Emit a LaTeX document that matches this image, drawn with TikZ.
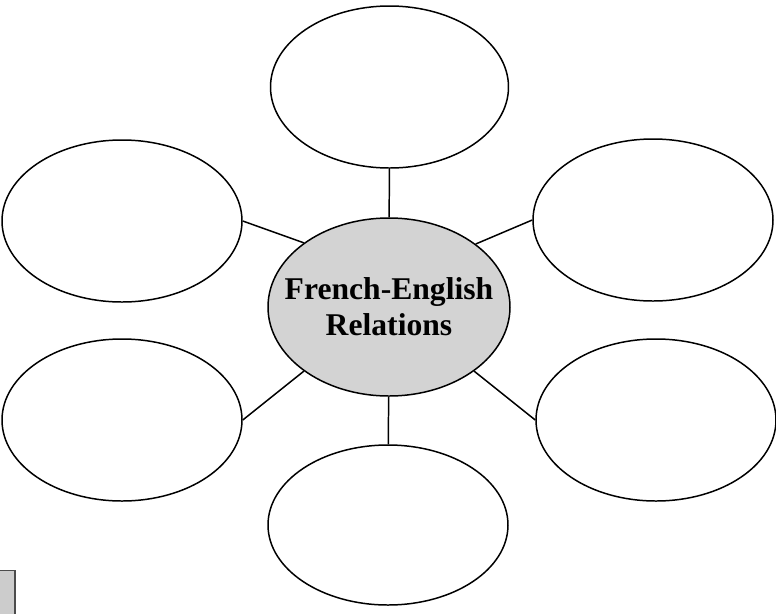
\documentclass[tikz,border=0pt]{standalone}
\usepackage{fontspec}
\setmainfont{Liberation Serif}
\usetikzlibrary{positioning,shapes}
\usepackage{xcolor}
\definecolor{HubGrey}{rgb}{0.8274510,0.8274510,0.8274510}
\definecolor{TabGrey}{rgb}{0.8000000,0.8000000,0.8000000}
\definecolor{TabEdge}{rgb}{0.3000000,0.3000000,0.3000000}

\begin{document}
\begin{tikzpicture}
  \useasboundingbox (0, 0) rectangle (15.52, -12.26);
  \node[ellipse, draw, line width=0.85pt, fill=HubGrey, minimum width=4.84cm, minimum height=3.56cm, inner sep=0pt,
        label={[align=center, font=\fontsize{18}{20.5}\selectfont\bfseries]center:French-English\\Relations}] (n0) at (7.78, -6.14) {};
  \node[ellipse, draw, line width=0.85pt, minimum width=4.76cm, minimum height=3.24cm, inner sep=0pt] (n1) at (7.79, -1.74) {};
  \draw[-, line width=0.85pt] (n0) -- (n1);
  \node[ellipse, draw, line width=0.85pt, minimum width=4.8cm, minimum height=3.24cm, inner sep=0pt] (n2) at (2.44, -4.42) {};
  \draw[-, line width=0.85pt] (n0.143.8) -- (n2.east);
  \node[ellipse, draw, line width=0.85pt, minimum width=4.8cm, minimum height=3.24cm, inner sep=0pt] (n3) at (13.06, -4.4) {};
  \draw[-, line width=0.85pt] (n0.36.3) -- (n3.west);
  \node[ellipse, draw, line width=0.85pt, minimum width=4.8cm, minimum height=3.24cm, inner sep=0pt] (n4) at (2.44, -8.4) {};
  \draw[-, line width=0.85pt] (n0.217.5) -- (n4.east);
  \node[ellipse, draw, line width=0.85pt, minimum width=4.8cm, minimum height=3.24cm, inner sep=0pt] (n5) at (13.12, -8.4) {};
  \draw[-, line width=0.85pt] (n0.-37.1) -- (n5.west);
  \node[ellipse, draw, line width=0.85pt, minimum width=4.8cm, minimum height=3.2cm, inner sep=0pt] (n6) at (7.76, -10.5) {};
  \draw[-, line width=0.85pt] (n0) -- (n6);
  \node[rectangle, draw=TabEdge, fill=TabGrey, line width=0.6pt, minimum width=0.36cm, minimum height=0.9cm, inner sep=0pt] (tab) at (0.12, -11.86) {};
\end{tikzpicture}
\end{document}
